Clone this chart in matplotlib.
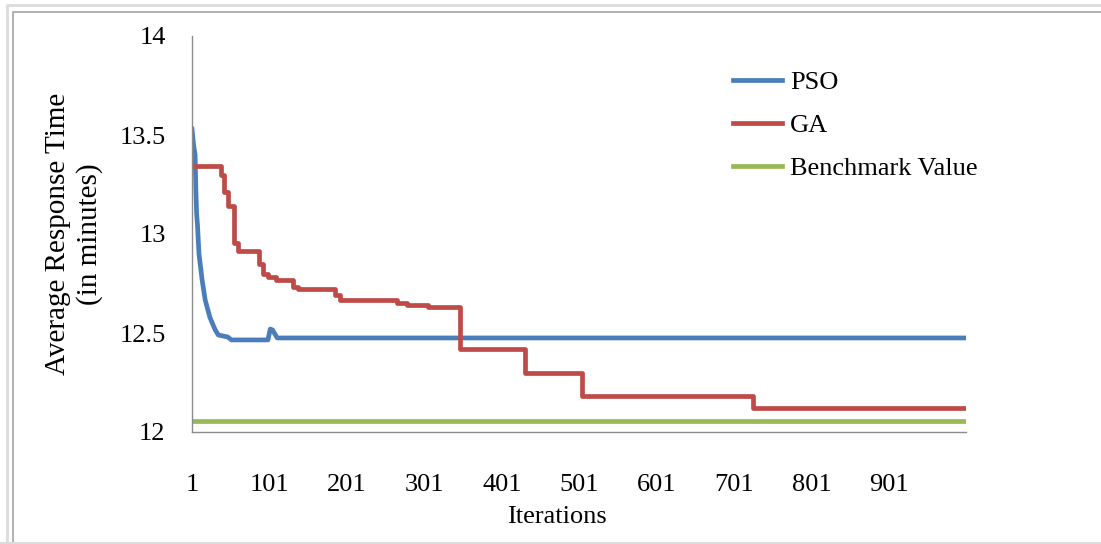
import matplotlib

matplotlib.use("Agg")
import matplotlib.pyplot as plt
from matplotlib.lines import Line2D

# PSO convergence curve (iteration, average response time)
pso_iter = [1, 3, 5, 6, 7, 8, 10, 14, 18, 24, 31, 35, 47, 52, 99, 102, 105, 111, 1000]
pso_val = [13.53, 13.45, 13.40, 13.22, 13.10, 13.05, 12.90, 12.77, 12.667, 12.58,
           12.515, 12.49, 12.48, 12.465, 12.465, 12.52, 12.515, 12.475, 12.475]

# GA best value (step changes)
ga_iter = [1, 38, 42, 48, 55, 60, 87, 92, 99, 110, 131, 138, 185, 192, 266, 279,
           306, 347, 431, 505, 725, 1000]
ga_val = [13.345, 13.30, 13.21, 13.14, 12.955, 12.915, 12.85, 12.80, 12.785, 12.77,
          12.73, 12.72, 12.69, 12.667, 12.65, 12.64, 12.63, 12.42, 12.30, 12.18,
          12.12, 12.12]

bench_iter = [1, 1000]
bench_val = [12.055, 12.055]

xtick_vals = [1, 101, 201, 301, 401, 501, 601, 701, 801, 901]
ytick_vals = [12, 12.5, 13, 13.5, 14]
ytick_labels = ["12", "12.5", "13", "13.5", "14"]

W, H = 1101, 544
plt.rcParams["font.family"] = ["Liberation Serif", "DejaVu Serif"]

fig = plt.figure(figsize=(W / 100, H / 100), dpi=100)
ax = fig.add_axes([192 / W, 1 - 432 / H, (966 - 192) / W, (432 - 36) / H])

ax.plot(pso_iter, pso_val, color="#4a7ebb", lw=3.4, label="PSO", solid_joinstyle="round")
ax.step(ga_iter, ga_val, where="post", color="#be4b48", lw=3.4, label="GA")
ax.plot(bench_iter, bench_val, color="#98b954", lw=3.4, label="Benchmark Value")

ax.set_xlim(1, 1000)
ax.set_ylim(12, 14)
ax.set_xticks(xtick_vals)
ax.set_xticklabels([str(v) for v in xtick_vals])
ax.set_yticks(ytick_vals)
ax.set_yticklabels(ytick_labels)
ax.tick_params(axis="x", length=0, pad=30, labelsize=19)
ax.tick_params(axis="y", length=0, pad=19, labelsize=19)

for side in ("top", "right"):
    ax.spines[side].set_visible(False)
for side in ("left", "bottom"):
    ax.spines[side].set_color("#8c8c8c")
    ax.spines[side].set_linewidth(1.0)

ax.set_xlabel("Iterations", fontsize=19)
ax.xaxis.set_label_coords((557 - 192) / (966 - 192), -(517 - 432) / (432 - 36), transform=ax.transAxes)
ax.xaxis.label.set_va("center")
ax.set_ylabel("Average Response Time\n(in minutes)", fontsize=21, linespacing=1.2)
ax.yaxis.set_label_coords((74 - 192) / (966 - 192), 0.5, transform=ax.transAxes)
ax.yaxis.label.set_va("center")

leg = ax.legend(loc="upper left", bbox_to_anchor=(733 / W, 1 - 71 / H),
                bbox_transform=fig.transFigure, frameon=False, fontsize=19,
                handlelength=1.85, handletextpad=0.3, labelspacing=0.73,
                borderpad=0, borderaxespad=0)

# figure frame
fig.add_artist(Line2D([7 / W, 7 / W, 1], [0, 1 - 5 / H, 1 - 5 / H],
                      transform=fig.transFigure, color="#dcdcdc", lw=2))
fig.add_artist(Line2D([13 / W, 13 / W, 1], [0, 1 - 12 / H, 1 - 12 / H],
                      transform=fig.transFigure, color="#a6a6a6", lw=1.2))
fig.add_artist(Line2D([0, 1], [1.5 / H, 1.5 / H],
                      transform=fig.transFigure, color="#dcdcdc", lw=1.5))

fig.savefig("out.png", dpi=100)
